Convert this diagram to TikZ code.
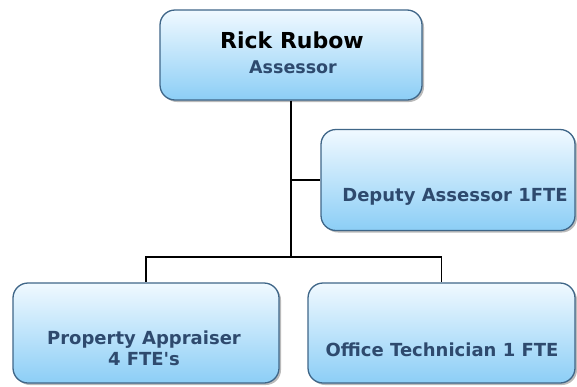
\documentclass[tikz,border=0pt]{standalone}
\usepackage{fontspec}
\newfontfamily\orgfont{DejaVu Sans}
\usetikzlibrary{positioning,shadows}

\definecolor{unitedge}{HTML}{3F6688}
\definecolor{unittop}{HTML}{F0F9FF}
\definecolor{unitbottom}{HTML}{8CCEF6}
\definecolor{unittext}{HTML}{2E4A6E}

\begin{document}
\begin{tikzpicture}[
    x=1pt, y=-1pt,
    unit/.style={draw=unitedge, line width=1.3pt, rounded corners=15pt,
        top color=unittop, bottom color=unitbottom,
        drop shadow={shadow xshift=2pt, shadow yshift=-2pt, fill=black!45, opacity=.6}},
    headname/.style={font=\orgfont\bfseries\fontsize{22}{26}\selectfont, text=black},
    post/.style={font=\orgfont\bfseries\fontsize{18}{21}\selectfont, text=unittext, align=center},
    line/.style={line width=1.3pt}
]
\useasboundingbox (0,0) rectangle (577,386);

% boxes
\node[unit, minimum width=262pt, minimum height=90pt] (rick) at (291,55) {};
\node[unit, minimum width=254pt, minimum height=101pt] (deputy) at (448,180) {};
\node[unit, minimum width=266pt, minimum height=100pt] (appraiser) at (146,333) {};
\node[unit, minimum width=267pt, minimum height=100pt] (tech) at (441.5,333) {};

% texts
\node[headname] (rickname) at (292,40) {Rick Rubow};
\node[post, font=\orgfont\bfseries\fontsize{17.5}{21}\selectfont] (rickpost) at (293,67) {Assessor};
\node[post] (deputytxt) at (455,197) {Deputy Assessor 1FTE};
\node[post] (appraisertxt) at (144,348.5) {Property Appraiser\\4 FTE's};
\node[post] (techtxt) at (442,350) {Office Technician 1 FTE};

% connectors
\coordinate (bar) at (rick.south |- 0,257);
\draw[line] (rick.south) -- (bar);
\draw[line] (rick.south |- deputy.west) -- (deputy.west);
\draw[line] (bar) -| (appraiser.north);
\draw[line] (bar) -| (tech.north);
\end{tikzpicture}
\end{document}
